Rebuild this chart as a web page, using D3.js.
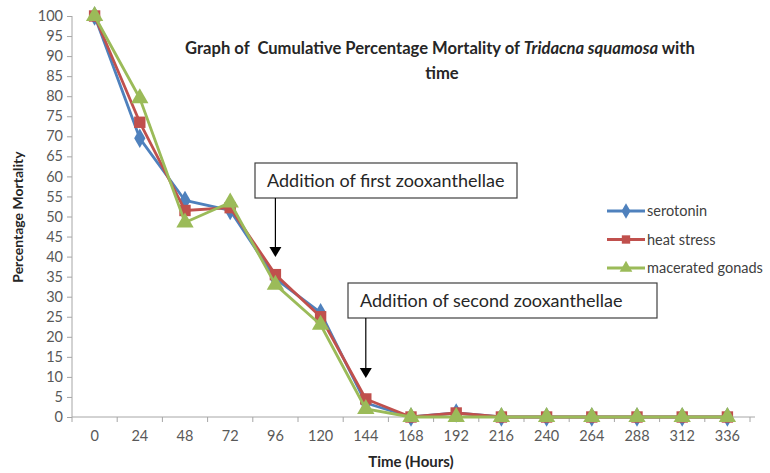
<!DOCTYPE html>
<html><head><meta charset="utf-8">
<script src="https://cdn.jsdelivr.net/npm/d3@7"></script>
<style>body{margin:0;background:#fff}svg{display:block}</style>
</head><body>
<script>
const hours = ["0","24","48","72","96","120","144","168","192","216","240","264","288","312","336"];
const serotonin = [100,69.5,54,51.5,34.5,26,3.5,0,1,0,0,0,0,0,0];
const heatStress = [100,73.5,51.5,52.2,35.5,25,4.5,0,1,0,0,0,0,0,0];
const maceratedGonads = [100,79.5,48.5,53.5,33,23,2,0,0,0,0,0,0,0,0];
const yTicks = d3.range(0,101,5);
const seriesNames = ["serotonin","heat stress","macerated gonads"];
const seriesColors = ["#4F81BD","#C0504D","#9BBB59"];
const seriesShapes = [d3.symbolDiamond, d3.symbolSquare, d3.symbolTriangle];
const notes = [
  {text:"Addition of first zooxanthellae", at:"96", box:[255,163,517,198], tip:257},
  {text:"Addition of second zooxanthellae", at:"144", box:[348,283,657,318], tip:378}
];

const W=770,H=473;
const svg=d3.select("body").append("svg").attr("width",W).attr("height",H);
const font="Lato, 'Open Sans', sans-serif";
const x=d3.scaleBand().domain(hours).range([72,750]);
const y=d3.scaleLinear().domain([0,100]).range([417,16]);
const cx=d=>x(d)+x.bandwidth()/2;

// y axis
const ya=svg.append("g").attr("transform","translate(72,0)")
 .call(d3.axisLeft(y).tickValues(yTicks).tickSize(5).tickPadding(4));
ya.select(".domain").attr("stroke","#A6A6A6").attr("d","M0,16V417");
ya.selectAll(".tick line").attr("stroke","#A6A6A6");
ya.selectAll("text").attr("font-family",font).attr("font-size",14.5).attr("fill","#595959");

// x axis
const xa=svg.append("g").attr("transform","translate(0,417)")
 .call(d3.axisBottom(x).tickSize(0).tickPadding(14));
xa.select(".domain").attr("stroke","#A6A6A6").attr("d","M72,0H755");
xa.selectAll("text").attr("font-family",font).attr("font-size",14.5).attr("fill","#595959");
svg.append("g").selectAll("line").data(hours.concat(["end"])).join("line")
 .attr("x1",(d,i)=>72+i*x.step()).attr("x2",(d,i)=>72+i*x.step())
 .attr("y1",417).attr("y2",422).attr("stroke","#A6A6A6");

// axis titles
svg.append("text").attr("x",411).attr("y",467).attr("text-anchor","middle")
 .attr("font-family",font).attr("font-weight","bold").attr("font-size",15).attr("fill","#262626").text("Time (Hours)");
svg.append("text").attr("transform","translate(23,217) rotate(-90)").attr("text-anchor","middle")
 .attr("font-family",font).attr("font-weight","bold").attr("font-size",14).attr("fill","#262626").text("Percentage Mortality");

// title
const t=svg.append("text").attr("x",440).attr("y",54).attr("text-anchor","middle")
 .attr("font-family",font).attr("font-weight","bold").attr("font-size",16.6).attr("fill","#262626");
t.append("tspan").text("Graph of\u00a0 Cumulative Percentage Mortality of ");
t.append("tspan").attr("font-style","italic").text("Tridacna squamosa");
t.append("tspan").text(" with");
svg.append("text").attr("x",442).attr("y",79).attr("text-anchor","middle")
 .attr("font-family",font).attr("font-weight","bold").attr("font-size",16.6).attr("fill","#262626").text("time");

// series
const all=[serotonin,heatStress,maceratedGonads];
const line=d3.line().x((d,i)=>cx(hours[i])).y(d=>y(d));
all.forEach((vals,k)=>{
  const g=svg.append("g");
  g.append("path").datum(vals).attr("d",line).attr("fill","none")
   .attr("stroke",seriesColors[k]).attr("stroke-width",2.8).attr("stroke-linejoin","round");
  const sz=[110,130,130][k];
  g.selectAll("path.m").data(vals).join("path").attr("class","m")
   .attr("transform",(d,i)=>`translate(${cx(hours[i])},${y(d)})`)
   .attr("d",d3.symbol().type(seriesShapes[k]).size(sz)).attr("fill",seriesColors[k]);
});

// legend
seriesNames.forEach((n,k)=>{
  const yy=211+k*28.5;
  const g=svg.append("g");
  g.append("line").attr("x1",607).attr("x2",645).attr("y1",yy).attr("y2",yy)
   .attr("stroke",seriesColors[k]).attr("stroke-width",2.8);
  g.append("path").attr("transform",`translate(626,${yy})`)
   .attr("d",d3.symbol().type(seriesShapes[k]).size(70)).attr("fill",seriesColors[k]);
  g.append("text").attr("x",647).attr("y",yy+5).attr("font-family",font).attr("font-size",14.5)
   .attr("fill","#404040").text(n);
});

// annotations
notes.forEach(nt=>{
  const [x0,y0,x1,y1]=nt.box;
  svg.append("rect").attr("x",x0).attr("y",y0).attr("width",x1-x0).attr("height",y1-y0)
   .attr("fill","#fff").attr("stroke","#404040").attr("stroke-width",1.2);
  svg.append("text").attr("x",x0+12).attr("y",(y0+y1)/2+6).attr("font-family",font)
   .attr("font-size",18).attr("fill","#262626").text(nt.text);
  const ax=cx(nt.at);
  svg.append("line").attr("x1",ax).attr("x2",ax).attr("y1",y1).attr("y2",nt.tip-9)
   .attr("stroke","#000").attr("stroke-width",1.2);
  svg.append("path").attr("d",`M${ax-6},${nt.tip-10}L${ax+6},${nt.tip-10}L${ax},${nt.tip}Z`).attr("fill","#000");
});
</script>
</body></html>
